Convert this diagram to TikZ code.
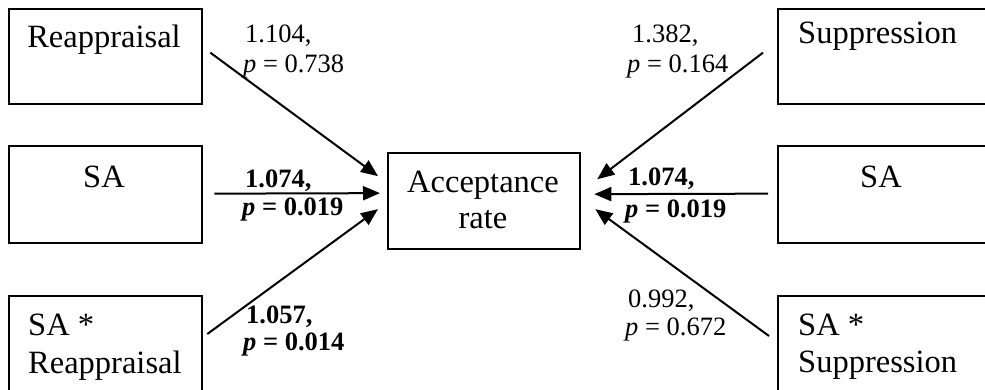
\documentclass[tikz,border=0pt]{standalone}
\usepackage{fontspec}
\setmainfont{Liberation Serif}
\usetikzlibrary{arrows.meta}
\begin{document}
\begin{tikzpicture}[x=1pt,y=-1pt,
 box/.style={draw, line width=2.3pt, inner sep=0pt, anchor=north west},
 big/.style={font=\fontsize{32.5}{38}\selectfont, inner sep=0pt},
 lab/.style={font=\fontsize{26.5}{30}\selectfont, inner sep=0pt, anchor=base west},
 conn/.style={line width=2pt, -{Triangle[length=17pt,width=14pt]}}]
\useasboundingbox (0,0) rectangle (985,389);
\clip (0,0) rectangle (985,389);
% boxes
\node[box, minimum width=193pt, minimum height=95pt] (reap) at (8,8) {};
\node[box, minimum width=193pt, minimum height=97pt] (sal) at (8,145) {};
\node[box, minimum width=193pt, minimum height=110pt] (sareap) at (8,295) {};
\node[box, minimum width=192pt, minimum height=96pt] (acc) at (387,152) {};
\node[box, minimum width=215pt, minimum height=95pt] (supp) at (777,8) {};
\node[box, minimum width=215pt, minimum height=97pt] (sar) at (777,145) {};
\node[box, minimum width=215pt, minimum height=110pt] (sasupp) at (777,295) {};
% box texts
\node[big, anchor=base] (treap) at (104,47) {Reappraisal};
\node[big, anchor=base] (tsal) at (104,187) {SA};
\node[big, anchor=base west] (tsareap1) at (28,335) {SA *};
\node[big, anchor=base west] (tsareap2) at (28,373) {Reappraisal};
\node[big, anchor=base] (tacc1) at (483,192) {Acceptance};
\node[big, anchor=base] (tacc2) at (483,228) {rate};
\node[big, anchor=base west] (tsupp) at (798,43) {Suppression};
\node[big, anchor=base] (tsar) at (881,187) {SA};
\node[big, anchor=base west] (tsasupp1) at (798,335) {SA *};
\node[big, anchor=base west] (tsasupp2) at (798,372) {Suppression};
% connectors
\draw[conn] ([shift={(7,-4)}]reap.east) -- ([shift={(-9,-25)}]acc.west);
\draw[conn] ([shift={(11,-1)}]sal.east) -- ([shift={(-7,-8)}]acc.west);
\draw[conn] ([shift={(4,39)}]sareap.north east) -- ([shift={(-9,8)}]acc.west);
\draw[conn] ([shift={(-14,-4)}]supp.west) -- ([shift={(16,-22)}]acc.east);
\draw[conn] ([shift={(-9,-1)}]sar.west) -- ([shift={(13,-7)}]acc.east);
\draw[conn] ([shift={(-8,41)}]sasupp.north west) -- ([shift={(14,8)}]acc.east);
% labels
\node[lab] (l1a) at (245,42) {1.104,};
\node[lab] (l1b) at (243,72) {\textit{p} = 0.738};
\node[lab] (l2a) at (245,187) {\textbf{1.074,}};
\node[lab] (l2b) at (242,215) {\textbf{\textit{p} = 0.019}};
\node[lab] (l3a) at (246,323) {\textbf{1.057,}};
\node[lab] (l3b) at (243,350) {\textbf{\textit{p} = 0.014}};
\node[lab] (r1a) at (632,42) {1.382,};
\node[lab] (r1b) at (627,72) {\textit{p} = 0.164};
\node[lab] (r2a) at (628,185) {\textbf{1.074,}};
\node[lab] (r2b) at (625,217) {\textbf{\textit{p} = 0.019}};
\node[lab] (r3a) at (628,307) {0.992,};
\node[lab] (r3b) at (625,335) {\textit{p} = 0.672};
\end{tikzpicture}
\end{document}
